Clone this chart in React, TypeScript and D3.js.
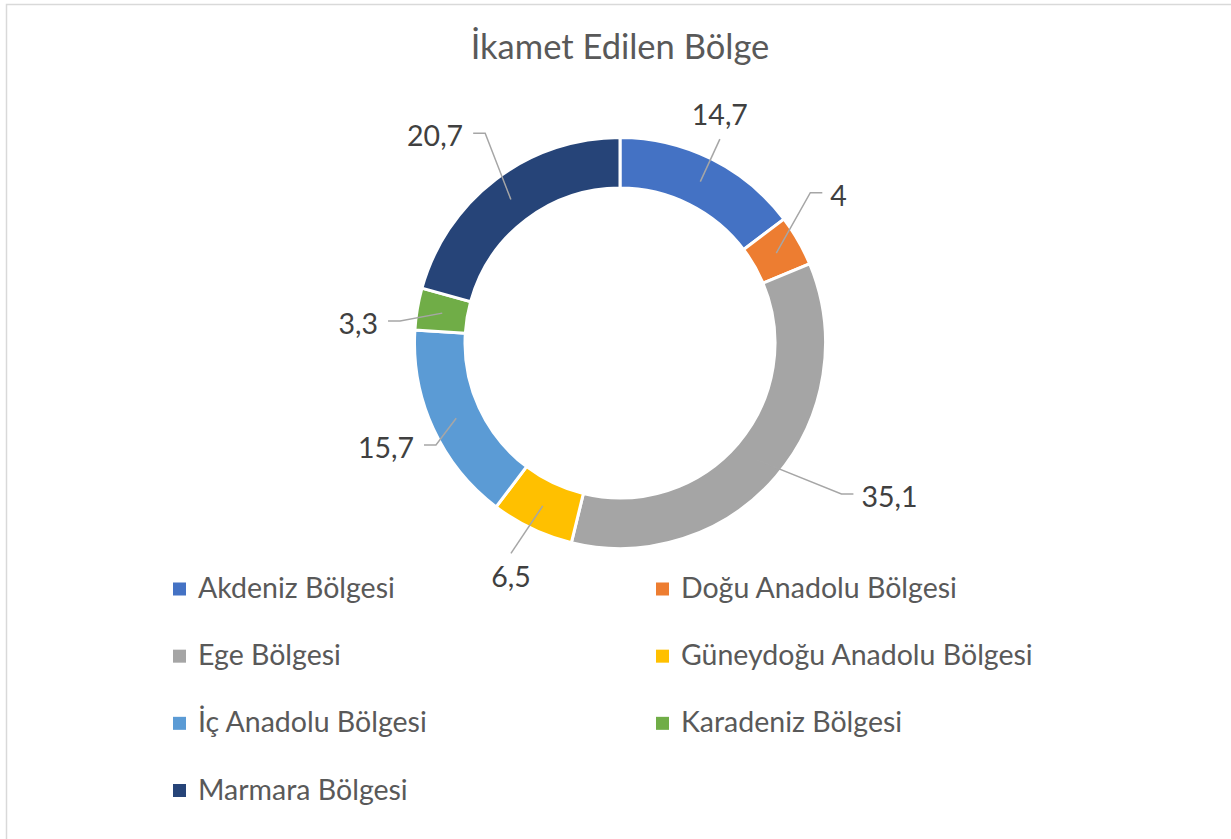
import * as d3 from "d3";

// ---- data ----
const regions = [
  "Akdeniz Bölgesi",
  "Doğu Anadolu Bölgesi",
  "Ege Bölgesi",
  "Güneydoğu Anadolu Bölgesi",
  "İç Anadolu Bölgesi",
  "Karadeniz Bölgesi",
  "Marmara Bölgesi",
];
const shares = [14.7, 4, 35.1, 6.5, 15.7, 3.3, 20.7];
const colors = [
  "#4472C4",
  "#ED7D31",
  "#A5A5A5",
  "#FFC000",
  "#5B9BD5",
  "#70AD47",
  "#264478",
];
const title = "İkamet Edilen Bölge";

// where each data label sits (polar, degrees clockwise from 12 o'clock)
type Side = "top" | "bottom" | "left" | "right";
const labelAngle = [26.1, 53.4, 122.9, 207.4, 242.5, 275.4, 325];
const labelRadius = [227, 252, 278, 237, 221, 233, 256];
const labelSide: Side[] = ["top", "right", "right", "bottom", "left", "left", "left"];

const width = 1231;
const height = 839;
const cx = 620;
const cy = 343;
const outerR = 205.5;
const innerR = 155;
const font = "Lato, 'Open Sans', sans-serif";

const fmt = (v: number) => String(v).replace(".", ",");

const polar = (deg: number, r: number): [number, number] => {
  const a = (deg * Math.PI) / 180;
  return [cx + r * Math.sin(a), cy - r * Math.cos(a)];
};

const App = () => {
  const pie = d3
    .pie<number>()
    .sort(null)
    .value((d) => d);
  const arcs = pie(shares);
  const arc = d3
    .arc<d3.PieArcDatum<number>>()
    .innerRadius(innerR)
    .outerRadius(outerR);
  const midR = (innerR + outerR) / 2;

  // legend: two columns
  const legendX = d3.scalePoint<number>().domain([0, 1]).range([173, 656]);
  const legendY = d3
    .scaleLinear()
    .domain([0, 3])
    .range([589, 790.5]);

  return (
    <svg
      width={width}
      height={height}
      style={{ position: "absolute", left: 0, top: 0, background: "#fff" }}
    >
      <rect
        x={6.5}
        y={4.5}
        width={width + 20}
        height={height + 20}
        fill="#fff"
        stroke="#D9D9D9"
        strokeWidth={1.5}
      />
      <text
        x={cx}
        y={59}
        textAnchor="middle"
        fontFamily={font}
        fontSize={34.5}
        fill="#595959"
      >
        {title}
      </text>

      <g transform={`translate(${cx},${cy})`}>
        {arcs.map((a, i) => (
          <path
            key={regions[i]}
            d={arc(a) ?? ""}
            fill={colors[i]}
            stroke="#fff"
            strokeWidth={3}
          />
        ))}
      </g>

      <g>
        {arcs.map((a, i) => {
          const mid = ((a.startAngle + a.endAngle) / 2) * (180 / Math.PI);
          const [sx, sy] = polar(mid, midR);
          const [px, py] = polar(labelAngle[i], labelRadius[i]);
          const side = labelSide[i];
          let d = "";
          let tx = px;
          let ty = py;
          let anchor: "start" | "end" | "middle" = "middle";
          let base: "central" | "auto" = "central";
          if (side === "right") {
            d = `M${sx},${sy}L${px - 12},${py}L${px},${py}`;
            tx = px + 8;
            ty = py + 2;
            anchor = "start";
          } else if (side === "left") {
            d = `M${sx},${sy}L${px + 12},${py}L${px},${py}`;
            tx = px - 10;
            ty = py + 2;
            anchor = "end";
          } else if (side === "top") {
            d = `M${sx},${sy}L${px},${py}`;
            ty = py - 14;
            base = "auto";
          } else {
            d = `M${sx},${sy}L${px},${py}`;
            ty = py + 34;
            base = "auto";
          }
          return (
            <g key={regions[i]}>
              <path d={d} fill="none" stroke="#A6A6A6" strokeWidth={1.5} />
              <text
                x={tx}
                y={ty}
                textAnchor={anchor}
                dominantBaseline={base}
                fontFamily={font}
                fontSize={28.5}
                fill="#404040"
              >
                {fmt(shares[i])}
              </text>
            </g>
          );
        })}
      </g>

      <g>
        {regions.map((name, i) => {
          const x = legendX(i % 2) ?? 0;
          const y = legendY(Math.floor(i / 2));
          return (
            <g key={name}>
              <rect x={x} y={y - 6.5} width={13} height={13} fill={colors[i]} />
              <text
                x={x + 25}
                y={y + 9}
                fontFamily={font}
                fontSize={28.5}
                fill="#595959"
              >
                {name}
              </text>
            </g>
          );
        })}
      </g>
    </svg>
  );
};

export default App;
